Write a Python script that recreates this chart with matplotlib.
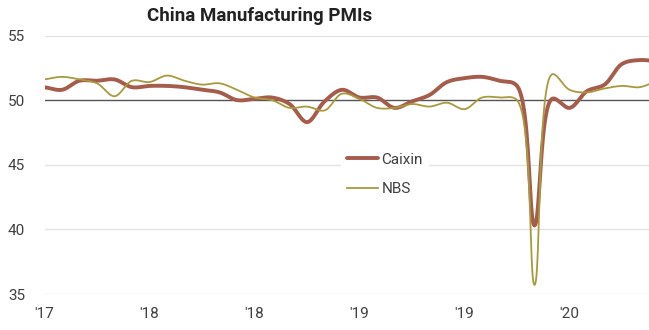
import numpy as np
import matplotlib
matplotlib.use("Agg")
import matplotlib.pyplot as plt

plt.rcParams['font.family'] = ['Liberation Sans Narrow', 'Roboto', 'DejaVu Sans']

# monthly, Oct 2017 .. Sep 2020
months = np.arange(36)
caixin = [51.0, 50.8, 51.5, 51.5, 51.6, 51.0, 51.1, 51.1, 51.0, 50.8, 50.6, 50.0,
          50.1, 50.2, 49.7, 48.3, 49.9, 50.8, 50.2, 50.2, 49.4, 49.9, 50.4, 51.4,
          51.7, 51.8, 51.5, 51.1, 40.3, 50.1, 49.4, 50.7, 51.2, 52.8, 53.1, 53.0]
nbs = [51.6, 51.8, 51.6, 51.3, 50.3, 51.5, 51.4, 51.9, 51.5, 51.2, 51.3, 50.8,
       50.2, 50.0, 49.4, 49.5, 49.2, 50.5, 50.1, 49.4, 49.4, 49.7, 49.5, 49.8,
       49.3, 50.2, 50.2, 50.0, 35.7, 52.0, 50.8, 50.6, 50.9, 51.1, 51.0, 51.5]
tick_pos = [0, 6, 12, 18, 24, 30]
tick_lab = ["'17", "'18", "'18", "'19", "'19", "'20"]
yticks = [35, 40, 45, 50, 55]


def smooth(xs, ys, sx=17.5, sy=12.93, n=24, alpha=0.5):
    # centripetal catmull-rom, done in screen-ish units (just for drawing)
    P = np.column_stack([np.asarray(xs, float) * sx, np.asarray(ys, float) * sy])
    P = np.vstack([2 * P[0] - P[1], P, 2 * P[-1] - P[-2]])
    out = []
    for i in range(1, len(P) - 2):
        p0, p1, p2, p3 = P[i - 1], P[i], P[i + 1], P[i + 2]
        t0 = 0.0
        t1 = t0 + np.linalg.norm(p1 - p0) ** alpha
        t2 = t1 + np.linalg.norm(p2 - p1) ** alpha
        t3 = t2 + np.linalg.norm(p3 - p2) ** alpha
        t = np.linspace(t1, t2, n)[:, None]
        a1 = (t1 - t) / (t1 - t0) * p0 + (t - t0) / (t1 - t0) * p1
        a2 = (t2 - t) / (t2 - t1) * p1 + (t - t1) / (t2 - t1) * p2
        a3 = (t3 - t) / (t3 - t2) * p2 + (t - t2) / (t3 - t2) * p3
        b1 = (t2 - t) / (t2 - t0) * a1 + (t - t0) / (t2 - t0) * a2
        b2 = (t3 - t) / (t3 - t1) * a2 + (t - t1) / (t3 - t1) * a3
        c = (t2 - t) / (t2 - t1) * b1 + (t - t1) / (t2 - t1) * b2
        out.append(c if i == 1 else c[1:])
    pts = np.vstack(out)
    return pts[:, 0] / sx, pts[:, 1] / sy


fig = plt.figure(figsize=(6.49, 3.30), dpi=100)
ax = fig.add_axes([44.5 / 649, 1 - 294 / 330, 1 - 44.5 / 649, (294 - 35.5) / 330])

for y in yticks:
    if y == 50:
        ax.axhline(y, color="#555555", lw=1.0, zorder=1)
    else:
        ax.axhline(y, color="#e3e3e3", lw=1.0, zorder=0)

x1, y1 = smooth(months, caixin)
x2, y2 = smooth(months, nbs)
ax.plot(x1, y1, color="#a65c4b", lw=2.8, label="Caixin", zorder=3, solid_capstyle="round")
ax.plot(x2, y2, color="#a89a3c", lw=1.3, label="NBS", zorder=4)

ax.set_xlim(0, 34.54)
ax.set_ylim(35, 55)
ax.set_yticks(yticks)
ax.set_xticks(tick_pos)
ax.set_xticklabels(tick_lab)
ax.tick_params(axis="both", length=0, labelsize=11, labelcolor="#404040")
ax.tick_params(axis="y", pad=14)
ax.tick_params(axis="x", pad=9)
for s in ax.spines.values():
    s.set_visible(False)

leg = ax.legend(loc="upper left", bbox_to_anchor=(0.478, 0.60), frameon=True,
                fontsize=11, handlelength=2.0, handletextpad=0.25,
                labelspacing=1.0, borderpad=0.4)
leg.get_frame().set_facecolor("white")
leg.get_frame().set_edgecolor("none")
leg.get_frame().set_alpha(1.0)
for t in leg.get_texts():
    t.set_color("#404040")

fig.text(260 / 649, 1 - 21 / 330, "China Manufacturing PMIs", ha="center", va="baseline",
         fontsize=13.5, weight="bold", color="#222222")

fig.savefig("out.png", dpi=100)
